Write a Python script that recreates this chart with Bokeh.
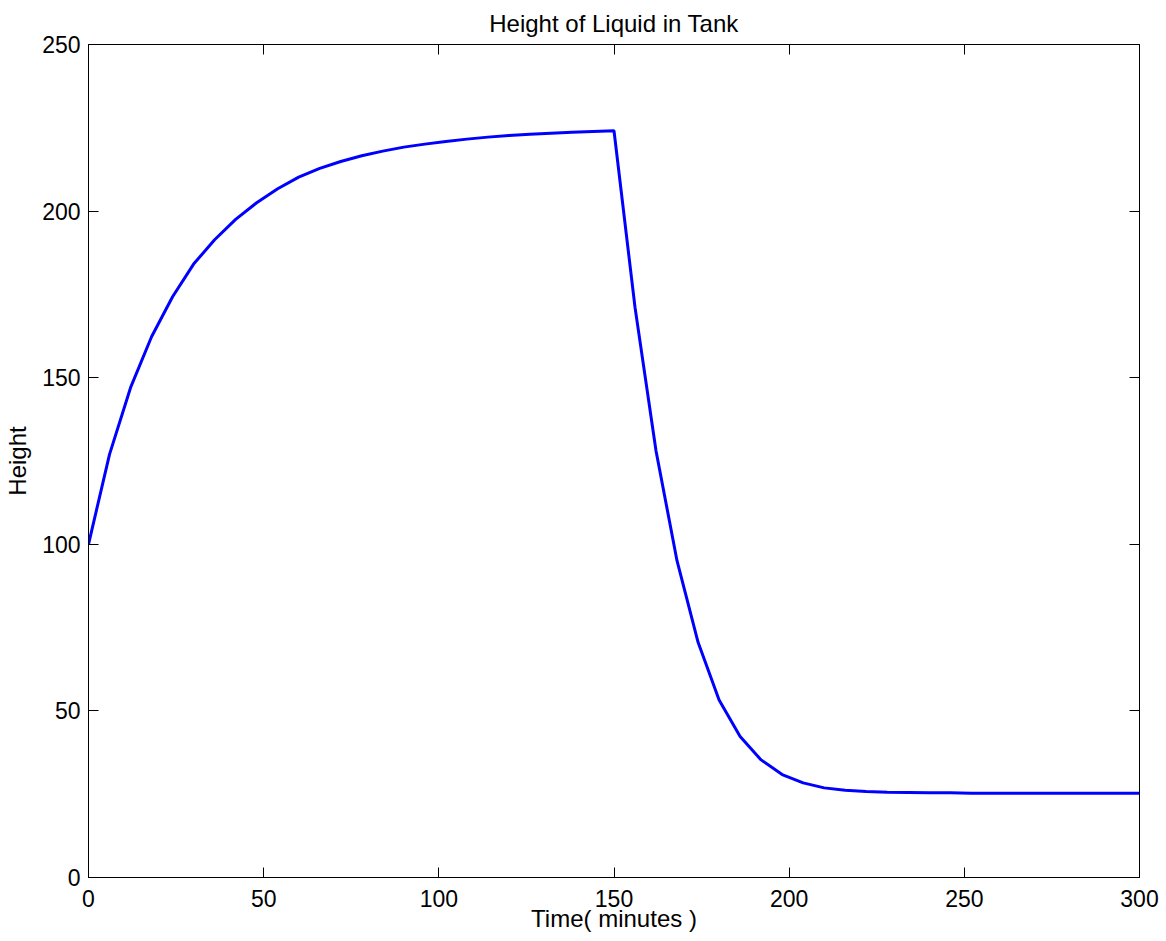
from bokeh.plotting import figure
from bokeh.models import Range1d, LinearAxis, SingleIntervalTicker, CustomJSTickFormatter
from bokeh.embed import file_html
from bokeh.resources import INLINE

# Time (minutes), sampled every 6 minutes
time_min = [0, 6, 12, 18, 24, 30, 36, 42, 48, 54, 60, 66, 72, 78, 84, 90, 96,
            102, 108, 114, 120, 126, 132, 138, 144, 150,
            156, 162, 168, 174, 180, 186, 192, 198, 204, 210, 216, 222, 228,
            234, 240, 246, 252, 258, 264, 270, 276, 282, 288, 294, 300]
# Height of liquid in tank
height = [100.0, 127.0, 147.0, 162.3, 174.3, 184.1, 191.4, 197.5, 202.5, 206.7,
          210.2, 212.8, 214.9, 216.6, 218.0, 219.2, 220.1, 220.9, 221.6, 222.2,
          222.7, 223.1, 223.4, 223.7, 223.9, 224.1,
          171.1, 128.0, 95.0, 70.6, 53.3, 42.3, 35.3, 30.9, 28.4, 26.9, 26.2,
          25.8, 25.6, 25.5, 25.4, 25.4, 25.3, 25.3, 25.3, 25.3, 25.3, 25.3,
          25.3, 25.3, 25.3]

x_ticks_interval = 50
y_ticks_interval = 50

FONT = "Liberation Sans"
FS_TICK = "23px"
FS_LABEL = "24px"

p = figure(width=1160, height=940, output_backend="svg", toolbar_location=None,
           x_range=Range1d(0, 300), y_range=Range1d(0, 250),
           min_border_left=88, min_border_right=21, min_border_top=44,
           min_border_bottom=63, x_axis_location="below", y_axis_location="left")

p.title.text = "Height of Liquid in Tank"
p.title.align = "center"
p.title.text_font = FONT
p.title.text_font_size = FS_LABEL
p.title.text_font_style = "normal"
p.title.text_color = "black"
p.title.standoff = 15

p.line(time_min, height, line_color="#0000ff", line_width=3)

p.xgrid.visible = False
p.ygrid.visible = False
p.outline_line_color = "black"
p.outline_line_width = 1
p.background_fill_color = "white"
p.border_fill_color = "white"

for ax, interval in ((p.xaxis[0], x_ticks_interval), (p.yaxis[0], y_ticks_interval)):
    ax.ticker = SingleIntervalTicker(interval=interval)
    ax.major_tick_in = 10
    ax.major_tick_out = 0
    ax.minor_tick_in = 0
    ax.minor_tick_out = 0
    ax.major_label_text_font = FONT
    ax.major_label_text_font_size = FS_TICK
    ax.major_label_text_color = "black"
    ax.axis_label_text_font = FONT
    ax.axis_label_text_font_size = FS_LABEL
    ax.axis_label_text_font_style = "normal"
    ax.axis_label_text_color = "black"
    ax.axis_line_color = "black"
    ax.major_tick_line_color = "black"

p.xaxis[0].axis_label = "Time( minutes )"
p.xaxis[0].major_label_standoff = 12
p.xaxis[0].axis_label_standoff = -5
p.yaxis[0].axis_label = "Height"
p.yaxis[0].major_label_standoff = 8
p.yaxis[0].axis_label_standoff = 8

blank = CustomJSTickFormatter(code="return ''")
top_ax = LinearAxis(ticker=SingleIntervalTicker(interval=x_ticks_interval),
                    formatter=blank,
                    major_tick_in=10, major_tick_out=0, minor_tick_in=0, minor_tick_out=0,
                    major_label_standoff=0)
right_ax = LinearAxis(ticker=SingleIntervalTicker(interval=y_ticks_interval),
                      formatter=blank,
                      major_tick_in=10, major_tick_out=0, minor_tick_in=0, minor_tick_out=0,
                      major_label_standoff=0)
p.add_layout(top_ax, "above")
p.add_layout(right_ax, "right")

open("out.html", "w").write(file_html(p, INLINE))
